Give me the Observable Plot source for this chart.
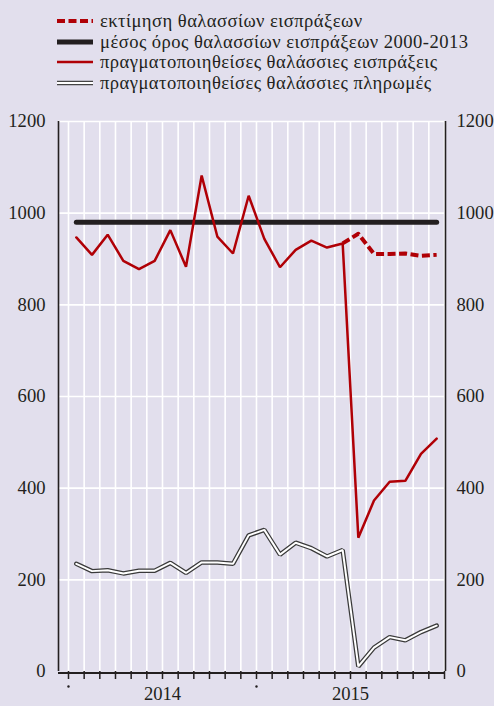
<!DOCTYPE html>
<html><head><meta charset="utf-8">
<script src="https://cdn.jsdelivr.net/npm/d3@7"></script>
<script src="https://cdn.jsdelivr.net/npm/@observablehq/plot@0.6"></script>
<style>
html,body{margin:0;padding:0;background:#e2dfed;}
#wrap{width:494px;height:706px;position:relative;overflow:hidden;background:#e2dfed;}
#legend{height:100px;box-sizing:border-box;padding-top:10.5px;font-family:"Liberation Serif","Times New Roman",Times,"DejaVu Serif",serif;font-size:18.6px;letter-spacing:0.45px;color:#231f20;}
.row{display:flex;align-items:center;height:20.7px;white-space:nowrap;}
.row svg{margin-left:57px;margin-right:7px;flex:none;}
#chart svg{display:block;}
#chart svg text{font-family:"Liberation Serif","Times New Roman",Times,"DejaVu Serif",serif;}
</style></head><body>
<div id="wrap"><div id="legend"></div><div id="chart"></div></div>
<script>
const months = ["2014-01","2014-02","2014-03","2014-04","2014-05","2014-06","2014-07","2014-08","2014-09","2014-10","2014-11","2014-12",
                "2015-01","2015-02","2015-03","2015-04","2015-05","2015-06","2015-07","2015-08","2015-09","2015-10","2015-11","2015-12"];
const receipts = [947, 909, 953, 896, 878, 896, 963, 883, 1082, 949, 912, 1038,
                  944, 882, 920, 940, 925, 934, 292, 373, 414, 416, 475, 508];
const estimate = [null, null, null, null, null, null, null, null, null, null, null, null,
                  null, null, null, null, null, 934, 955, 911, 911, 912, 907, 909];
const payments = [235, 219, 221, 214, 220, 220, 237, 215, 238, 238, 235, 297,
                  309, 255, 281, 269, 251, 265, 11, 52, 75, 68, 86, 100];
const average = 980;
const yTicks = [0, 200, 400, 600, 800, 1000, 1200];
const years = ["2014", "2015"];
const legendLabels = [
  "εκτίμηση θαλασσίων εισπράξεων",
  "μέσος όρος θαλασσίων εισπράξεων 2000-2013",
  "πραγματοποιηθείσες θαλάσσιες εισπράξεις",
  "πραγματοποιηθείσες θαλάσσιες πληρωμές"
];

const RED = "#b00006", INK = "#231f20";
const SERIF = "'Liberation Serif', 'Times New Roman', Times, 'DejaVu Serif', serif";

// legend
const swatches = [
  `<line x1="0" y1="5" x2="36" y2="5" stroke="${RED}" stroke-width="4" stroke-dasharray="8,3.5"/>`,
  `<line x1="0" y1="5" x2="36" y2="5" stroke="${INK}" stroke-width="5"/>`,
  `<line x1="0" y1="5" x2="36" y2="5" stroke="${RED}" stroke-width="2.5"/>`,
  `<line x1="0" y1="5" x2="36" y2="5" stroke="#444" stroke-width="4.5"/><line x1="0" y1="5" x2="36" y2="5" stroke="#fff" stroke-width="2"/>`
];
document.getElementById("legend").innerHTML = legendLabels.map((t, k) =>
  `<div class="row"><svg width="36" height="10">${swatches[k]}</svg><span>${t}</span></div>`).join("");

const data = months.map((m, k) => ({
  i: k + 0.5, month: m, receipts: receipts[k], estimate: estimate[k], payments: payments[k], average
}));
const bounds = d3.range(0, months.length + 1);
const x0 = -0.638, x1 = 24.064;

const chart = Plot.plot({
  width: 494, height: 606,
  marginLeft: 58, marginRight: 49, marginTop: 21, marginBottom: 35,
  style: {background: "#e2dfed", fontFamily: SERIF, fontSize: "18.6px", color: INK},
  x: {type: "linear", domain: [x0, x1]},
  y: {domain: [0, 1200]},
  marks: [
    Plot.ruleY(yTicks.filter(d => d > 0), {stroke: "#fff", strokeWidth: 1.6}),
    Plot.ruleX(bounds, {y1: 0, y2: 1200, stroke: "#fff", strokeWidth: 1.6}),
    Plot.line(data, {x: "i", y: "average", stroke: INK, strokeWidth: 5}),
    Plot.line(data, {x: "i", y: "payments", stroke: "#3a3a3a", strokeWidth: 4.5, strokeLinejoin: "miter"}),
    Plot.line(data, {x: "i", y: "payments", stroke: "#fff", strokeWidth: 2, strokeLinejoin: "miter"}),
    Plot.line(data, {x: "i", y: "receipts", stroke: RED, strokeWidth: 2.5, strokeLinejoin: "miter"}),
    Plot.line(data.filter(d => d.estimate != null), {x: "i", y: "estimate", stroke: RED, strokeWidth: 4, strokeDasharray: "8,3.5", strokeLinecap: "butt"}),
    Plot.ruleX([x0], {y1: 0, y2: 1200, stroke: INK, strokeWidth: 1.6}),
    Plot.ruleX([x1], {y1: 0, y2: 1200, stroke: INK, strokeWidth: 1.6}),
    Plot.ruleY([0], {stroke: INK, strokeWidth: 2, dy: 1.5}),
    Plot.axisX(bounds, {tickSize: 8, tickFormat: () => "", label: null, stroke: INK, strokeWidth: 1.5}),
    Plot.dot([0, 12], {x: d => d, frameAnchor: "bottom", dy: 15, r: 1.2, fill: INK, stroke: null}),
    Plot.text(years, {x: (d, k) => 6 + 12 * k, text: d => d, frameAnchor: "bottom", dy: 28, fontSize: 18.6, fill: INK, fontFamily: SERIF}),
    Plot.axisY(yTicks, {anchor: "left", tickSize: 0, tickPadding: 13, fontSize: 18.6, fill: INK, label: null, fontFamily: SERIF, tickFormat: d => String(d)}),
    Plot.axisY(yTicks, {anchor: "right", tickSize: 0, tickPadding: 11, fontSize: 18.6, fill: INK, label: null, fontFamily: SERIF, tickFormat: d => String(d)})
  ]
});
document.getElementById("chart").appendChild(chart);
</script>
</body></html>
